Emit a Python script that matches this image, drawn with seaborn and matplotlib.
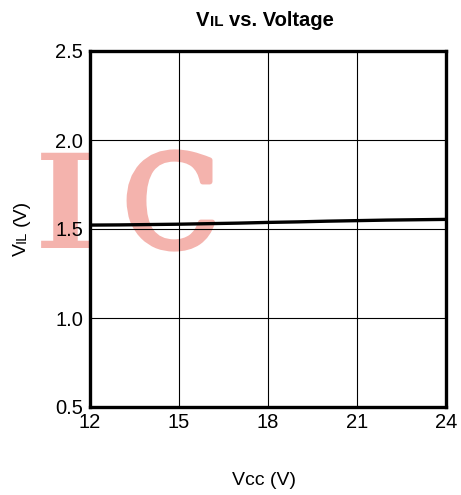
import numpy as np
import pandas as pd
import seaborn as sns
import matplotlib
matplotlib.use("Agg")
import matplotlib.pyplot as plt
import matplotlib.patheffects as pe
from matplotlib.transforms import IdentityTransform

# ==================================
# DADOS
# ==================================

vcc = [12, 13, 14, 15, 16, 17, 18, 19, 20, 21, 22, 23, 24]
vil = [1.522, 1.523, 1.525, 1.527, 1.530, 1.533, 1.537, 1.540, 1.544, 1.547, 1.550, 1.552, 1.554]

x_ticks = [12, 15, 18, 21, 24]
y_ticks = [0.5, 1.0, 1.5, 2.0, 2.5]

df = pd.DataFrame({"vcc": vcc, "vil": vil})

# ==================================
# ESTILO
# ==================================

sns.set_style("white")
plt.rcParams["font.family"] = ["Liberation Sans", "DejaVu Sans"]
plt.rcParams["text.color"] = "black"

W, H = 461, 495
fig = plt.figure(figsize=(W / 100, H / 100), dpi=100)
ax = fig.add_axes([90 / W, 1 - 407 / H, 356 / W, 356 / H])
ax.set_facecolor("none")

# ==================================
# GRAFICO
# ==================================

sns.lineplot(data=df, x="vcc", y="vil", ax=ax, color="black", linewidth=2.4)

ax.set_xlim(12, 24)
ax.set_ylim(0.5, 2.5)
ax.set_xticks(x_ticks)
ax.set_yticks(y_ticks)
ax.set_xticklabels([str(t) for t in x_ticks])
ax.set_yticklabels([f"{t:.1f}" for t in y_ticks])
ax.tick_params(axis="both", length=0, labelsize=14.5, colors="black")
ax.tick_params(axis="x", pad=4)
ax.tick_params(axis="y", pad=5)
ax.grid(True, color="black", linewidth=0.8)
ax.set_xlabel("")
ax.set_ylabel("")
for s in ax.spines.values():
    s.set_visible(True)
    s.set_color("black")
    s.set_linewidth(2.4)

# marca d'agua (atras dos eixos)
rosa = "#f4b3ad"
wm = dict(color=rosa, va="baseline", ha="center",
          transform=IdentityTransform(), zorder=-1)
fig.text(65, H - 248, "I", fontsize=94, family="DejaVu Serif", weight="bold", **wm)
fig.text(171, H - 247, "C", fontsize=92, family="DejaVu Serif",
         path_effects=[pe.withStroke(linewidth=4, foreground=rosa)], **wm)

# texto com "subscrito" na linha de base
renderer = fig.canvas.get_renderer()


def rich(parts, x, y, rot=0, weight="normal"):
    arts = []
    total = 0
    for s, fs, gap in parts:
        t = fig.text(0, 0, s, fontsize=fs, weight=weight, rotation=rot,
                     rotation_mode="anchor", ha="left", va="baseline",
                     color="black", transform=IdentityTransform())
        ext = t.get_window_extent(renderer)
        w = ext.height if rot else ext.width
        arts.append((t, gap, w))
        total += gap + w
    pos = -total / 2
    for t, gap, w in arts:
        pos += gap
        if rot:
            t.set_position((x, H - y + pos))
        else:
            t.set_position((x + pos, H - y))
        pos += w


rich([("V", 14.5, 0), ("IL", 11, 0), ("vs. Voltage", 14.5, 5.6)], 265, 26, weight="bold")
rich([("V", 14, 0), ("IL", 10.5, 0), ("(V)", 14, 5.4)], 26, 228, rot=90)
fig.text(264, H - 485, "Vcc (V)", fontsize=14, ha="center", va="baseline",
         color="black", transform=IdentityTransform())

plt.savefig("out.png", dpi=100)
